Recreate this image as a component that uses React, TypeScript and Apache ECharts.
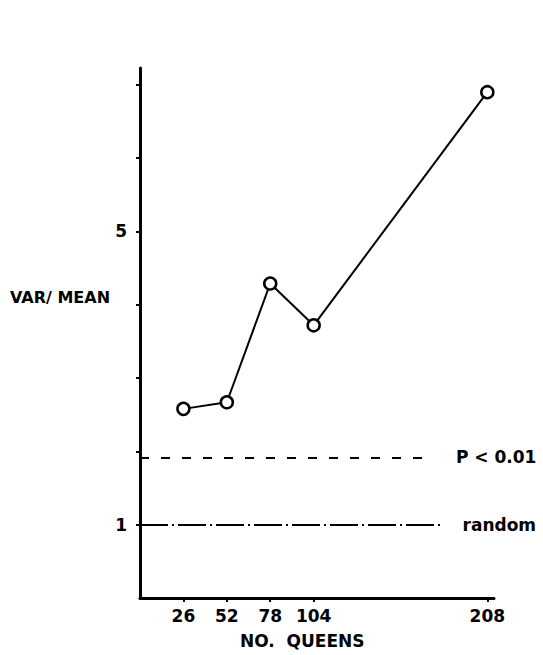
import React, { useEffect, useRef } from "react";
import * as echarts from "echarts";

const queens = [26, 52, 78, 104, 208];
const varMean = [2.58, 2.67, 4.29, 3.72, 6.9];
const xTicks = [26, 52, 78, 104, 208];
const yTicks = [1, 2, 3, 4, 5, 6, 7];
const yLabels = [1, 5];
const pLevel = 1.92;
const randomLevel = 1;
const pLineEnd = 176;
const randomLineEnd = 180;

const FONT = "'DejaVu Sans', sans-serif";

export default function App() {
  const ref = useRef<HTMLDivElement>(null);
  useEffect(() => {
    if (!ref.current) return;
    const chart = echarts.init(ref.current, undefined, { renderer: "svg" });
    const labelStyle = {
      color: "#000",
      fontFamily: FONT,
      fontWeight: "bold",
      fontSize: 17,
    };
    chart.setOption({
      animation: false,
      backgroundColor: "#ffffff",
      grid: { left: 140, right: 49, top: 68, bottom: 57, containLabel: false },
      xAxis: {
        type: "value",
        min: 0,
        max: 212,
        axisLine: { show: true, onZero: false, lineStyle: { color: "#000", width: 3 } },
        axisTick: { show: true, customValues: xTicks, length: 4, lineStyle: { color: "#000", width: 2 } },
        axisLabel: { customValues: xTicks, margin: 9, ...labelStyle },
        splitLine: { show: false },
      },
      yAxis: {
        type: "value",
        min: 0,
        max: 7.23,
        axisLine: { show: true, onZero: false, lineStyle: { color: "#000", width: 3 } },
        axisTick: { show: true, customValues: yTicks, length: 4, lineStyle: { color: "#000", width: 2 } },
        axisLabel: { customValues: yLabels, margin: 13, ...labelStyle },
        splitLine: { show: false },
      },
      graphic: [
        {
          type: "text",
          left: 10,
          top: 289,
          style: { text: "VAR/ MEAN", fill: "#000", font: `bold 16px ${FONT}` },
        },
        {
          type: "text",
          left: 240,
          top: 632,
          style: { text: "NO.  QUEENS", fill: "#000", font: `bold 17px ${FONT}` },
        },
      ],
      series: [
        {
          type: "line",
          data: queens.map((q, i) => [q, varMean[i]]),
          symbol: "circle",
          symbolSize: 12,
          showAllSymbol: true,
          lineStyle: { color: "#000", width: 2 },
          itemStyle: { color: "#fff", borderColor: "#000", borderWidth: 2.5 },
          z: 3,
        },
        {
          type: "line",
          data: [],
          markLine: {
            silent: true,
            symbol: ["none", "none"],
            data: [
              [
                {
                  coord: [0, pLevel],
                  lineStyle: { type: [9, 12], color: "#000", width: 1.8 },
                  label: { formatter: "P < 0.01", distance: 22 },
                },
                { coord: [pLineEnd, pLevel] },
              ],
              [
                {
                  coord: [0, randomLevel],
                  lineStyle: { type: [28, 4, 2, 4], color: "#000", width: 1.8 },
                  label: { formatter: "random", distance: 22 },
                },
                { coord: [randomLineEnd, randomLevel] },
              ],
            ],
            label: { show: true, position: "end", ...labelStyle },
          },
        },
      ],
    });
    return () => chart.dispose();
  }, []);
  return <div ref={ref} style={{ position: "fixed", left: 0, top: 0, width: 543, height: 655 }} />;
}
